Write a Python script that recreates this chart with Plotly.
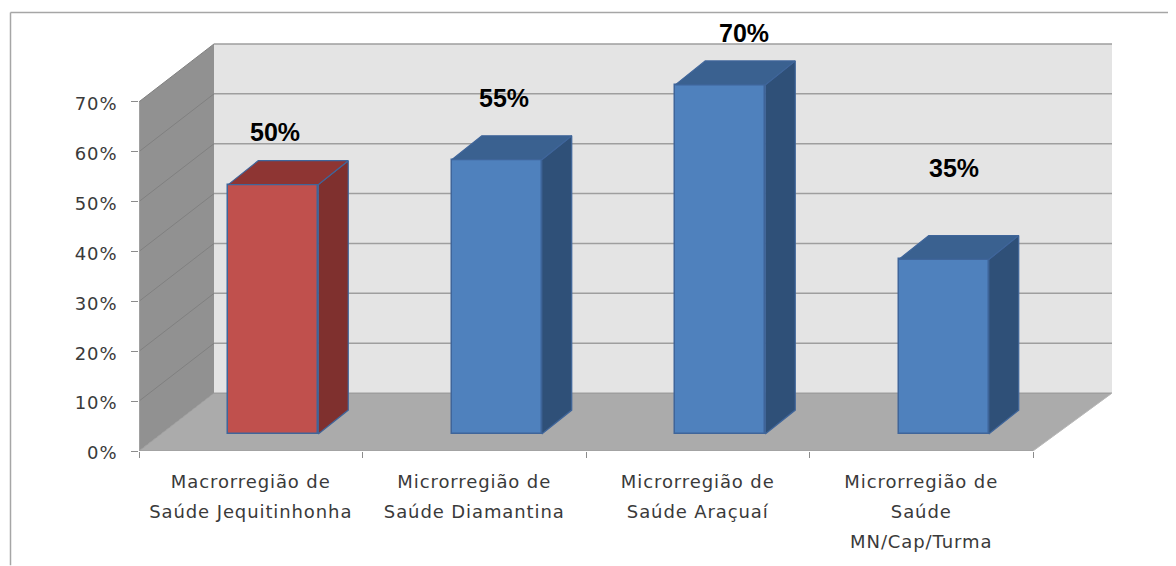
import plotly.graph_objects as go

categories = ["Macrorregião de<br>Saúde Jequitinhonha", "Microrregião de<br>Saúde Diamantina",
              "Microrregião de<br>Saúde Araçuaí", "Microrregião de<br>Saúde<br>MN/Cap/Turma"]
values = [50, 55, 70, 35]
value_labels = ["50%", "55%", "70%", "35%"]
y_ticks = [0, 10, 20, 30, 40, 50, 60, 70]
y_tick_labels = ["0%", "10%", "20%", "30%", "40%", "50%", "60%", "70%"]
front_colors = ["#c0504d", "#4f81bd", "#4f81bd", "#4f81bd"]
side_colors = ["#7f302e", "#2f5078", "#2f5078", "#2f5078"]
top_colors = ["#8e3533", "#3a6190", "#3a6190", "#3a6190"]

# the page sits 8 px inside the window
PAGE = 8
FIG_W, FIG_H = 1176 - PAGE, 566 - PAGE
PLOT_L, PLOT_R, PLOT_T, PLOT_B = 139 - PAGE, 1125 - PAGE, 18.5 - PAGE, 451.5 - PAGE

# pixel scale of the axes
PX_X = 223.5
PX_Y = 5.0
def dx(p): return p / PX_X
def dy(p): return p / PX_Y

X0, Y_MAX = -0.5, 70
X1 = 3.5
WALL_DX_L, WALL_DX_R, WALL_DY = dx(75), dx(79), dy(58)
BAR_OFF_X, BAR_OFF_Y = dx(22.5), dy(17)
BAR_W = dx(90)
BAR_DX, BAR_DY = dx(30), dy(24)
LABEL_OFF = [(2, 53), (7, 62), (24, 52), (10, 92)]

GRID = "#9e9e9e"
shapes = []
def poly(points, fill, line=None, width=0):
    path = "M " + " L ".join(f"{x},{y}" for x, y in points) + " Z"
    shapes.append(dict(type="path", path=path, xref="x", yref="y", layer="below",
                       fillcolor=fill, line=dict(color=line or fill, width=width)))
def seg(x0, y0, x1, y1, color=GRID, width=1.5):
    shapes.append(dict(type="line", x0=x0, y0=y0, x1=x1, y1=y1, xref="x", yref="y",
                       layer="below", line=dict(color=color, width=width)))

XB0, XB1 = X0 + WALL_DX_L, X1 + WALL_DX_R
poly([(XB0, WALL_DY), (XB1, WALL_DY), (XB1, Y_MAX + WALL_DY), (XB0, Y_MAX + WALL_DY)], "#e4e4e4")
poly([(X0, 0), (XB0, WALL_DY), (XB0, Y_MAX + WALL_DY), (X0, Y_MAX)], "#919191")
poly([(X0, 0), (X1, 0), (XB1, WALL_DY), (XB0, WALL_DY)], "#ababab")
for t in y_ticks:
    seg(XB0, t + WALL_DY, XB1, t + WALL_DY)
    if t > 0:
        seg(X0, t, XB0, t + WALL_DY, "#808080", 1)
seg(X0, 0, X1, 0, "#a0a0a0", 1.5)
seg(X0, 0, X0, Y_MAX, "#a6a6a6", 1.5)
seg(X0, 0, XB0, WALL_DY, "#9c9c9c", 1)
seg(X1, 0, XB1, WALL_DY, "#b8b8b8", 1)

# frame: paper coordinates are relative to the plot area
def px_x(p): return (p - PAGE - PLOT_L) / (PLOT_R - PLOT_L)
def px_y(p): return (PLOT_B - (p - PAGE)) / (PLOT_B - PLOT_T)
for a, b, c, d in [(10.5, 12, 1176, 12), (10.5, 12, 10.5, 566)]:
    shapes.append(dict(type="line", xref="paper", yref="paper", x0=px_x(a), y0=px_y(b),
                       x1=px_x(c), y1=px_y(d), line=dict(color="#a6a6a6", width=1.5)))

OUTLINE = "#3f659a"
centers = list(range(len(categories)))
fig = go.Figure()
fig.add_trace(go.Bar(x=[c + BAR_OFF_X for c in centers], y=values, base=BAR_OFF_Y, width=BAR_W,
                     marker=dict(color=front_colors, line=dict(color=OUTLINE, width=1.5)),
                     showlegend=False, hoverinfo="skip"))
annotations = []
for c, v, lab, side, top, off in zip(centers, values, value_labels, side_colors, top_colors, LABEL_OFF):
    xl = c + BAR_OFF_X - BAR_W / 2
    xr = c + BAR_OFF_X + BAR_W / 2
    yb = BAR_OFF_Y
    yt = BAR_OFF_Y + v
    fig.add_trace(go.Scatter(x=[xr, xr + BAR_DX, xr + BAR_DX, xr, xr],
                             y=[yb, yb + BAR_DY, yt + BAR_DY, yt, yb],
                             mode="lines", fill="toself", fillcolor=side,
                             line=dict(color=OUTLINE, width=1.2), showlegend=False, hoverinfo="skip"))
    fig.add_trace(go.Scatter(x=[xl, xl + BAR_DX, xr + BAR_DX, xr, xl],
                             y=[yt, yt + BAR_DY, yt + BAR_DY, yt, yt],
                             mode="lines", fill="toself", fillcolor=top,
                             line=dict(color=OUTLINE, width=1.2), showlegend=False, hoverinfo="skip"))
    annotations.append(dict(x=c + BAR_OFF_X + dx(off[0]), y=yt + dy(off[1]), xref="x", yref="y",
                            text=f"<b>{lab}</b>", showarrow=False, xanchor="center", yanchor="middle",
                            font=dict(family="Liberation Sans", size=25, color="#000000")))

LABEL_STYLE = "font-size:18px;letter-spacing:0.9px"
tick_text = ["<br>".join(f'<span style="{LABEL_STYLE}">{p}</span>' for p in c.split("<br>")) for c in categories]
y_text = [f'<span style="{LABEL_STYLE}">{t}</span>' for t in y_tick_labels]

fig.update_layout(
    width=FIG_W, height=FIG_H, autosize=False, bargap=0, barmode="overlay",
    paper_bgcolor="white", plot_bgcolor="white", showlegend=False,
    margin=dict(l=PLOT_L, r=FIG_W - PLOT_R, t=PLOT_T, b=FIG_H - PLOT_B, autoexpand=False, pad=0),
    shapes=shapes, annotations=annotations,
    xaxis=dict(range=[X0, X1 + dx(1125 - 1033)], showgrid=False, zeroline=False, showline=False,
               tickmode="array", tickvals=centers, ticktext=tick_text, ticks="",
               tickfont=dict(family="DejaVu Sans", size=23, color="#3a3a3a"),
               tickangle=0, automargin=False, ticklabelstandoff=13,
               minor=dict(tickmode="array", tickvals=[-0.5, 0.5, 1.5, 2.5, 3.5], ticks="outside",
                          ticklen=6, tickwidth=1.2, tickcolor="#8c8c8c", showgrid=False)),
    yaxis=dict(range=[0, (451.5 - 18.5) / PX_Y], showgrid=False, zeroline=False, showline=False,
               tickmode="array", tickvals=y_ticks, ticktext=y_text, ticks="outside",
               ticklen=7, tickwidth=1.2, tickcolor="#8c8c8c", automargin=False,
               ticklabelstandoff=10, ticklabelshift=2,
               tickfont=dict(family="DejaVu Sans", size=18, color="#3a3a3a")),
)
fig.write_html("out.html")
